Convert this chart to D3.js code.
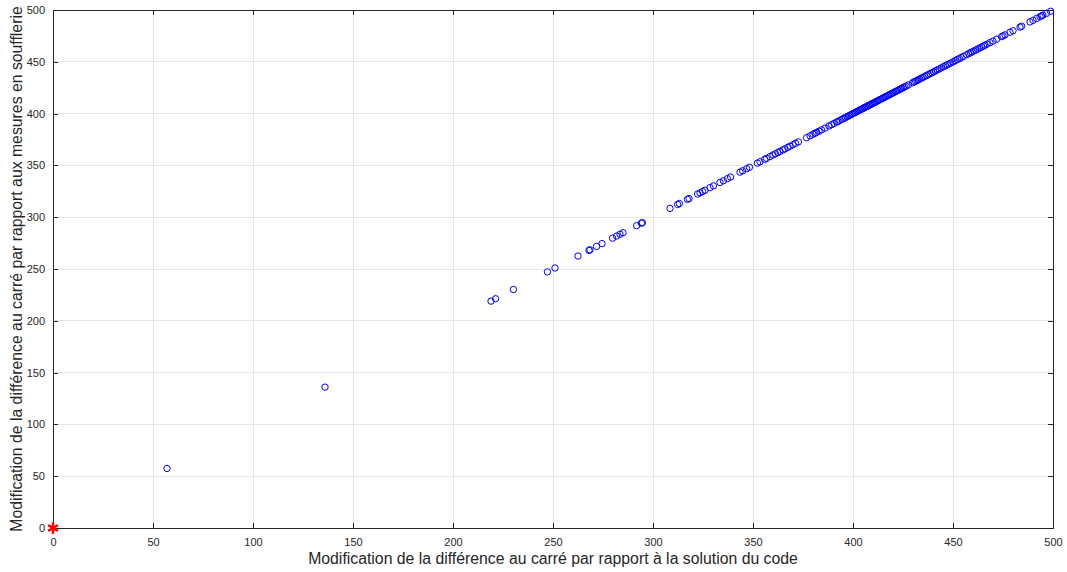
<!DOCTYPE html>
<html>
<head>
<meta charset="utf-8">
<script src="https://cdn.jsdelivr.net/npm/d3@7"></script>
<style>
  html, body { margin: 0; padding: 0; background: #fff; }
  svg { display: block; }
  text { font-family: "Liberation Sans", Arial, Helvetica, sans-serif; }
</style>
</head>
<body>
<svg id="chart" width="1067" height="572"></svg>
<script>
// ---- data ----
const xValues = [57, 136, 219, 221.3, 230.2, 247.2, 251, 262.5, 268, 268.5, 271.8, 274.5, 279.8, 281.8, 283.5, 285, 291.8, 294.2, 294.7,
  308.5, 312.3, 313.2, 317.2, 318, 322.3, 323.5, 324.8, 326, 328.5, 330.2, 333.5, 335.2, 337.2, 338.8, 343.5, 344.8, 346.8, 348.2,
  352.2, 353.5, 355.8, 356.8, 358.5, 360, 361.2, 362.4, 363.5, 365, 366, 367.4, 368.5, 370, 371.3, 372.7, 376.8, 378.5, 380, 381,
  381.8, 383, 384.3, 386, 388, 389.3, 390.5, 391.8, 392.5, 393.5, 394.6, 395.5, 396.3, 397, 397.8, 398.5, 399.2, 399.9, 400.6,
  401.2, 401.9, 402.5, 403.1, 403.8, 404.4, 405, 405.7, 406.3, 407, 407.6, 408.2, 408.9, 409.5, 410.2, 410.8, 411.4, 412.1, 412.7,
  413.4, 414, 414.7, 415.3, 416, 416.6, 417.3, 417.9, 418.6, 419.2, 419.9, 420.5, 421.2, 421.8, 422.5, 423.1, 423.8, 424.4, 425.1,
  425.8, 426.6, 427.7, 429.8, 430.6, 431.3, 432, 432.7, 433.4, 434.2, 435, 435.9, 436.8, 437.7, 438.6, 439.5, 440.3, 441.2, 442.1,
  443.1, 444.1, 445.2, 446.2, 447.1, 448, 448.9, 450, 451.1, 452.2, 453.2, 454.1, 455.2, 456.8, 457.9, 458.7, 459.5, 460.4, 461.4,
  462.4, 463.5, 464.4, 465.3, 466, 467, 468.5, 470, 471.8, 474.3, 475, 476, 478.5, 480, 483.5, 484.3, 488.5, 490, 491.8, 493.5,
  494.3, 495, 496.8, 498.8];
const yValues = [57.5, 136, 219, 221.3, 230.2, 247.2, 251, 262.5, 268, 268.5, 271.8, 274.5, 279.8, 281.8, 283.5, 285, 291.8, 294.2, 294.7,
  308.5, 312.3, 313.2, 317.2, 318, 322.3, 323.5, 324.8, 326, 328.5, 330.2, 333.5, 335.2, 337.2, 338.8, 343.5, 344.8, 346.8, 348.2,
  352.2, 353.5, 355.8, 356.8, 358.5, 360, 361.2, 362.4, 363.5, 365, 366, 367.4, 368.5, 370, 371.3, 372.7, 376.8, 378.5, 380, 381,
  381.8, 383, 384.3, 386, 388, 389.3, 390.5, 391.8, 392.5, 393.5, 394.6, 395.5, 396.3, 397, 397.8, 398.5, 399.2, 399.9, 400.6,
  401.2, 401.9, 402.5, 403.1, 403.8, 404.4, 405, 405.7, 406.3, 407, 407.6, 408.2, 408.9, 409.5, 410.2, 410.8, 411.4, 412.1, 412.7,
  413.4, 414, 414.7, 415.3, 416, 416.6, 417.3, 417.9, 418.6, 419.2, 419.9, 420.5, 421.2, 421.8, 422.5, 423.1, 423.8, 424.4, 425.1,
  425.8, 426.6, 427.7, 429.8, 430.6, 431.3, 432, 432.7, 433.4, 434.2, 435, 435.9, 436.8, 437.7, 438.6, 439.5, 440.3, 441.2, 442.1,
  443.1, 444.1, 445.2, 446.2, 447.1, 448, 448.9, 450, 451.1, 452.2, 453.2, 454.1, 455.2, 456.8, 457.9, 458.7, 459.5, 460.4, 461.4,
  462.4, 463.5, 464.4, 465.3, 466, 467, 468.5, 470, 471.8, 474.3, 475, 476, 478.5, 480, 483.5, 484.3, 488.5, 490, 491.8, 493.5,
  494.3, 495, 496.8, 498.8];
const originPoint = [0, 0];
const xTicks = [0, 50, 100, 150, 200, 250, 300, 350, 400, 450, 500];
const yTicks = [0, 50, 100, 150, 200, 250, 300, 350, 400, 450, 500];
const xLabel = "Modification de la différence au carré par rapport à la solution du code";
const yLabel = "Modification de la différence au carré par rapport aux mesures en soufflerie";

// ---- layout ----
const margin = { left: 53, right: 14, top: 10, bottom: 44 };
const W = 1067, H = 572;
const iw = W - margin.left - margin.right;
const ih = H - margin.top - margin.bottom;

const svg = d3.select("#chart");
const g = svg.append("g").attr("transform", `translate(${margin.left},${margin.top})`);

const x = d3.scaleLinear().domain([0, 500]).range([0, iw]);
const y = d3.scaleLinear().domain([0, 500]).range([ih, 0]);

// grid
g.append("g").selectAll("line").data(xTicks).join("line")
  .attr("x1", d => x(d)).attr("x2", d => x(d)).attr("y1", 0).attr("y2", ih)
  .attr("stroke", "#e5e5e5").attr("stroke-width", 1).attr("shape-rendering", "crispEdges");
g.append("g").selectAll("line").data(yTicks).join("line")
  .attr("y1", d => y(d)).attr("y2", d => y(d)).attr("x1", 0).attr("x2", iw)
  .attr("stroke", "#e5e5e5").attr("stroke-width", 1).attr("shape-rendering", "crispEdges");

const axColor = "#262626";
const tl = 5;
// axes
const xAxis = g.append("g").attr("transform", `translate(0,${ih})`)
  .call(d3.axisBottom(x).tickValues(xTicks).tickSize(-tl).tickPadding(10).tickFormat(d3.format("d")));
const yAxis = g.append("g")
  .call(d3.axisLeft(y).tickValues(yTicks).tickSize(-tl).tickPadding(8).tickFormat(d3.format("d")));
const xTop = g.append("g")
  .call(d3.axisTop(x).tickValues(xTicks).tickSize(-tl).tickFormat(""));
const yRight = g.append("g").attr("transform", `translate(${iw},0)`)
  .call(d3.axisRight(y).tickValues(yTicks).tickSize(-tl).tickFormat(""));
[xAxis, yAxis, xTop, yRight].forEach(a => {
  a.select(".domain").attr("stroke", axColor).attr("shape-rendering", "crispEdges");
  a.selectAll(".tick line").attr("stroke", axColor).attr("shape-rendering", "crispEdges");
  a.selectAll(".tick text").attr("fill", axColor).style("font-size", "11px")
    .style("font-family", '"Liberation Sans", Arial, Helvetica, sans-serif');
});

// points
g.append("g").selectAll("circle").data(xValues.map((d, i) => [d, yValues[i]])).join("circle")
  .attr("cx", d => x(d[0])).attr("cy", d => y(d[1])).attr("r", 3.2)
  .attr("fill", "none").attr("stroke", "#0000ff").attr("stroke-width", 1);

// origin marker (red asterisk)
const star = d3.symbol().type(d3.symbolAsterisk || d3.symbolCross).size(90);
g.append("path").attr("d", star())
  .attr("transform", `translate(${x(originPoint[0])},${y(originPoint[1])})`)
  .attr("fill", "#ff0000").attr("stroke", "#ff0000").attr("stroke-width", 2.5);

// labels
svg.append("text").attr("x", margin.left + iw / 2).attr("y", 564)
  .attr("text-anchor", "middle").style("font-size", "15.8px").attr("fill", axColor).text(xLabel);
svg.append("text").attr("transform", `translate(22,${margin.top + ih / 2}) rotate(-90)`)
  .attr("text-anchor", "middle").style("font-size", "15.8px").attr("fill", axColor).text(yLabel);
</script>
</body>
</html>
